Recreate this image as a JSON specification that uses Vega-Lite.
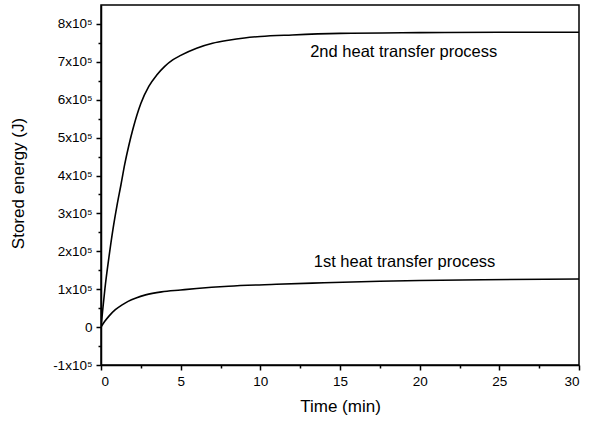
{
  "$schema": "https://vega.github.io/schema/vega-lite/v6.json",
  "width": 478,
  "height": 360,
  "autosize": {"type": "none"},
  "padding": {"left": 101, "top": 5, "right": 15, "bottom": 56},
  "background": "white",
  "config": {
    "font": "Liberation Sans",
    "view": {"stroke": "black", "strokeWidth": 1.5},
    "axis": {
      "grid": false,
      "domainColor": "black",
      "domainWidth": 1.5,
      "tickColor": "black",
      "tickWidth": 1.5,
      "labelColor": "black",
      "titleColor": "black",
      "labelFont": "Liberation Sans",
      "titleFont": "Liberation Sans",
      "labelFontSize": 13.5,
      "titleFontSize": 17,
      "titleFontWeight": "normal"
    }
  },
  "datasets": {
    "curves": [
      {"t": 0, "energy": 0, "series": "2nd"},
      {"t": 0.1, "energy": 42000, "series": "2nd"},
      {"t": 0.25, "energy": 103000, "series": "2nd"},
      {"t": 0.5, "energy": 185000, "series": "2nd"},
      {"t": 0.75, "energy": 258000, "series": "2nd"},
      {"t": 1.0, "energy": 320000, "series": "2nd"},
      {"t": 1.25, "energy": 375000, "series": "2nd"},
      {"t": 1.5, "energy": 432000, "series": "2nd"},
      {"t": 1.75, "energy": 480000, "series": "2nd"},
      {"t": 2.0, "energy": 522000, "series": "2nd"},
      {"t": 2.5, "energy": 590000, "series": "2nd"},
      {"t": 3.0, "energy": 635000, "series": "2nd"},
      {"t": 3.5, "energy": 665000, "series": "2nd"},
      {"t": 4.0, "energy": 688000, "series": "2nd"},
      {"t": 4.5, "energy": 705000, "series": "2nd"},
      {"t": 5.0, "energy": 717000, "series": "2nd"},
      {"t": 6.0, "energy": 736000, "series": "2nd"},
      {"t": 7.0, "energy": 749000, "series": "2nd"},
      {"t": 8.0, "energy": 757000, "series": "2nd"},
      {"t": 9.0, "energy": 763000, "series": "2nd"},
      {"t": 10.0, "energy": 767000, "series": "2nd"},
      {"t": 12.0, "energy": 771000, "series": "2nd"},
      {"t": 15.0, "energy": 775000, "series": "2nd"},
      {"t": 20.0, "energy": 777000, "series": "2nd"},
      {"t": 25.0, "energy": 778000, "series": "2nd"},
      {"t": 30.0, "energy": 778000, "series": "2nd"},
      {"t": 0, "energy": 0, "series": "1st"},
      {"t": 0.1, "energy": 7000, "series": "1st"},
      {"t": 0.25, "energy": 16000, "series": "1st"},
      {"t": 0.5, "energy": 29000, "series": "1st"},
      {"t": 0.9, "energy": 46000, "series": "1st"},
      {"t": 1.3, "energy": 58000, "series": "1st"},
      {"t": 1.7, "energy": 68000, "series": "1st"},
      {"t": 2.2, "energy": 77000, "series": "1st"},
      {"t": 2.8, "energy": 85000, "series": "1st"},
      {"t": 3.8, "energy": 93000, "series": "1st"},
      {"t": 5.0, "energy": 98000, "series": "1st"},
      {"t": 6.0, "energy": 102000, "series": "1st"},
      {"t": 8.0, "energy": 108000, "series": "1st"},
      {"t": 11.0, "energy": 113000, "series": "1st"},
      {"t": 14.0, "energy": 117000, "series": "1st"},
      {"t": 17.5, "energy": 121000, "series": "1st"},
      {"t": 20.0, "energy": 123000, "series": "1st"},
      {"t": 24.0, "energy": 125000, "series": "1st"},
      {"t": 30.0, "energy": 127000, "series": "1st"}
    ],
    "labels": [
      {"t": 19.0, "energy": 726000, "text": "2nd heat transfer process"},
      {"t": 19.05, "energy": 173000, "text": "1st heat transfer process"}
    ]
  },
  "layer": [
    {
      "data": {"name": "curves"},
      "mark": {"type": "line", "color": "black", "strokeWidth": 1.6, "interpolate": "monotone", "clip": true},
      "encoding": {
        "x": {
          "field": "t", "type": "quantitative",
          "scale": {"domain": [0, 30], "nice": false, "zero": false},
          "axis": {
            "orient": "bottom",
            "values": [0, 2.5, 5, 7.5, 10, 12.5, 15, 17.5, 20, 22.5, 25, 27.5, 30],
            "tickCount": 100,
            "labelExpr": "datum.value % 5 == 0 ? format(datum.value, 'd') : ''",
            "labelOverlap": false,
            "tickSize": {"condition": {"test": "datum.value % 5 != 0", "value": 3}, "value": 5},
            "labelPadding": 4,
            "title": "Time (min)",
            "titleY": 33,
            "titleBaseline": "top"
          }
        },
        "y": {
          "field": "energy", "type": "quantitative",
          "scale": {"domain": [-100000, 850000], "nice": false, "zero": false},
          "axis": {
            "orient": "left",
            "values": [-100000, -50000, 0, 50000, 100000, 150000, 200000, 250000, 300000, 350000, 400000, 450000, 500000, 550000, 600000, 650000, 700000, 750000, 800000],
            "tickCount": 100,
            "labelExpr": "datum.value % 100000 != 0 ? '' : (datum.value == 0 ? '0' : (datum.value / 100000) + 'x10⁵')",
            "labelOverlap": false,
            "tickSize": {"condition": {"test": "datum.value % 100000 != 0", "value": 3}, "value": 5},
            "labelPadding": 4,
            "title": "Stored energy (J)",
            "titleX": -74,
            "titleY": 178,
            "titleBaseline": "bottom"
          }
        },
        "detail": {"field": "series", "type": "nominal"}
      }
    },
    {
      "data": {"name": "labels"},
      "mark": {"type": "text", "font": "Liberation Sans", "fontSize": 16.5, "color": "black", "align": "center", "baseline": "middle"},
      "encoding": {
        "x": {"field": "t", "type": "quantitative"},
        "y": {"field": "energy", "type": "quantitative"},
        "text": {"field": "text", "type": "nominal"}
      }
    }
  ]
}
